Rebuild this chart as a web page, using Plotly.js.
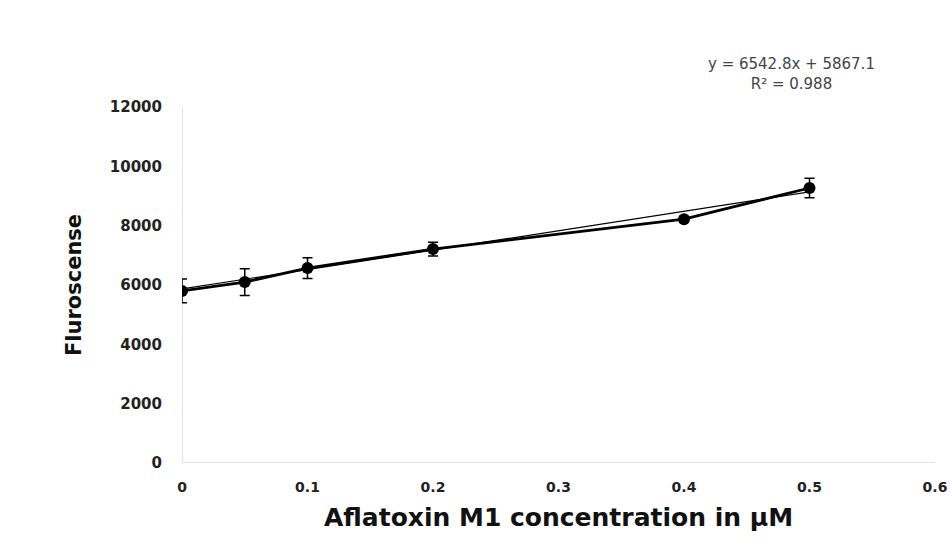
<!DOCTYPE html>
<html><head><meta charset="utf-8">
<script src="https://cdn.plot.ly/plotly-3.0.1.min.js"></script>
<style>html,body{margin:0;padding:0;background:#fff}#chart{width:950px;height:540px}</style>
</head><body><div id="chart"></div>
<script>
const conc = [0, 0.05, 0.1, 0.2, 0.4, 0.5];
const fluor = [5800, 6100, 6570, 7210, 8220, 9270];
const errs = [400, 450, 350, 230, 100, 330];
const slope = 6542.8, intercept = 5867.1;
const trendX = [0, 0.5];
const trendY = trendX.map(x => slope * x + intercept);
const xTicks = [0, 0.1, 0.2, 0.3, 0.4, 0.5, 0.6];
const yTicks = [0, 2000, 4000, 6000, 8000, 10000, 12000];

const traces = [
  {x: trendX, y: trendY, mode: 'lines', line: {color: '#000', width: 1.2}, hoverinfo: 'skip', showlegend: false},
  {x: conc, y: fluor, mode: 'lines+markers',
   line: {color: '#000', width: 2.8},
   marker: {color: '#000', size: 12},
   error_y: {type: 'data', array: errs, visible: true, color: '#000', thickness: 1.5, width: 5},
   showlegend: false}
];
const font = "'DejaVu Sans', 'Liberation Sans', sans-serif";
const layout = {
  width: 950, height: 540,
  margin: {l: 182, r: 15, t: 107, b: 77},
  paper_bgcolor: '#fff', plot_bgcolor: '#fff',
  xaxis: {range: [0, 0.6], tickvals: xTicks, ticktext: xTicks.map(String),
    showgrid: false, zeroline: false, showline: false,
    ticks: 'outside', ticklen: 11, tickcolor: 'rgba(0,0,0,0)',
    tickfont: {family: font, size: 14, color: '#222', weight: 'bold'},
    title: {text: 'Aflatoxin M1 concentration in µM', font: {family: font, size: 25, color: '#111', weight: 'bold'}, standoff: 14}},
  yaxis: {range: [0, 12000], tickvals: yTicks, ticktext: yTicks.map(String),
    showgrid: false, zeroline: false, showline: false,
    ticks: 'outside', ticklen: 16, tickcolor: 'rgba(0,0,0,0)',
    tickfont: {family: font, size: 15, color: '#222', weight: 'bold'},
    title: {text: 'Fluroscense', font: {family: font, size: 21, color: '#111', weight: 'bold'}, standoff: 22}},
  shapes: [
    {type: 'line', xref: 'x', yref: 'paper', x0: 0, x1: 0, y0: 0, y1: 1, line: {color: '#d9d9d9', width: 1.5}, layer: 'below'},
    {type: 'line', xref: 'paper', yref: 'y', x0: 0, x1: 1, y0: 0, y1: 0, line: {color: '#d9d9d9', width: 1.5}, layer: 'below'}
  ],
  annotations: [
    {xref: 'paper', yref: 'paper', x: 0.81, y: 1.0, yanchor: 'bottom', xanchor: 'center',
     text: 'y = 6542.8x + 5867.1<br>R² = 0.988', showarrow: false, align: 'center',
     yshift: 12, font: {family: font, size: 15, color: '#444'}}
  ]
};
Plotly.newPlot('chart', traces, layout, {displayModeBar: false, staticPlot: true});
</script></body></html>
